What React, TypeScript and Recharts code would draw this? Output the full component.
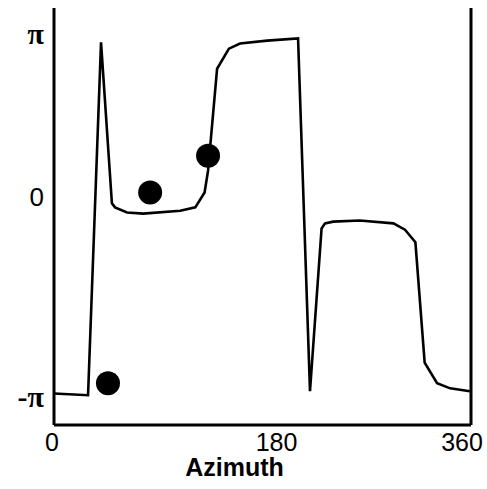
import React from 'react';
import { ComposedChart, Line, Scatter, XAxis, YAxis, ReferenceLine } from 'recharts';

const PI = Math.PI;

// Phase curve (azimuth in degrees, phase in radians)
const azimuth = [0, 29.4, 40.6, 50, 52.7, 63, 77, 109, 122, 130, 133, 140.8, 151, 160.6, 184, 210.7, 221, 231, 234, 241, 264, 293, 303, 312, 320, 330.7, 342, 359];
const phase = [-3.09, -3.12, 3.04, 0.23, 0.16, 0.07, 0.05, 0.1, 0.16, 0.42, 0.8, 2.58, 2.93, 3.02, 3.07, 3.11, -3.05, -0.21, -0.12, -0.09, -0.07, -0.12, -0.23, -0.45, -2.55, -2.91, -3.0, -3.05];

// Measured points
const dotAzimuth = [46.6, 83, 133];
const dotPhase = [-2.91, 0.42, 1.06];

const xTicks = [0, 180, 360];
const xTickLabels = ['0', '180', '360'];
const yTicks = [-PI, 0, PI];
const yTickLabels = ['-π', '0', 'π'];

const lineData = azimuth.map((a, i) => ({ az: a, ph: phase[i] }));
const dotData = dotAzimuth.map((a, i) => ({ az: a, ph: dotPhase[i] }));

const FONT = '"Liberation Sans", Arial, sans-serif';

const xDx: Record<string, number> = { '0': -2, '180': 14, '360': -9 };
const yDy: Record<string, number> = { 'π': -2, '0': -20, '-π': 2 };

const XTick = (props: any) => {
  const { x, y, payload } = props;
  const idx = xTicks.indexOf(payload.value);
  const label = xTickLabels[idx] ?? String(payload.value);
  return (
    <text x={x + (xDx[label] || 0)} y={y + 18} textAnchor="middle" fontFamily={FONT} fontSize={25} fill="#000">
      {label}
    </text>
  );
};

const YTick = (props: any) => {
  const { x, y, payload } = props;
  const idx = yTicks.findIndex((t) => Math.abs(t - payload.value) < 1e-6);
  const label = yTickLabels[idx] ?? String(payload.value);
  const isPi = label !== '0';
  return (
    <text
      x={x - 2}
      y={y + 9 + (yDy[label] || 0)}
      textAnchor="end"
      fontFamily={isPi ? '"Liberation Serif", serif' : FONT}
      fontWeight={isPi ? 'bold' : 'normal'}
      fontSize={isPi ? 30 : 26}
      fill="#000"
    >
      {label}
    </text>
  );
};

const AzLabel = (props: any) => {
  const { viewBox } = props;
  const cx = viewBox.x + viewBox.width / 2 - 28;
  return (
    <text x={cx} y={476} textAnchor="middle" fontFamily={FONT} fontSize={25} fontWeight="bold" fill="#000">
      Azimuth
    </text>
  );
};

const Dot = (props: any) => {
  const { cx, cy } = props;
  return <circle cx={cx} cy={cy} r={12} fill="#000" />;
};

export default function App() {
  return (
    <div style={{ position: 'absolute', left: 0, top: 0, background: '#fff' }}>
      <ComposedChart width={487} height={489} margin={{ top: 8, right: 16, left: 0, bottom: 0 }}>
        <XAxis
          dataKey="az"
          type="number"
          domain={[0, 360]}
          ticks={xTicks}
          tick={<XTick />}
          tickLine={false}
          axisLine={{ stroke: '#000', strokeWidth: 3 }}
          height={64}
          allowDataOverflow
          label={<AzLabel />}
        />
        <YAxis
          dataKey="ph"
          type="number"
          domain={[-3.64, 3.64]}
          ticks={yTicks}
          tick={<YTick />}
          tickLine={false}
          axisLine={{ stroke: '#000', strokeWidth: 3 }}
          width={54}
          allowDataOverflow
        />
        <ReferenceLine x={360} stroke="#000" strokeWidth={3} />
        <Line
          data={lineData}
          dataKey="ph"
          type="linear"
          stroke="#000"
          strokeWidth={2.6}
          dot={false}
          isAnimationActive={false}
        />
        <Scatter data={dotData} dataKey="ph" fill="#000" shape={<Dot />} isAnimationActive={false} />
      </ComposedChart>
    </div>
  );
}
